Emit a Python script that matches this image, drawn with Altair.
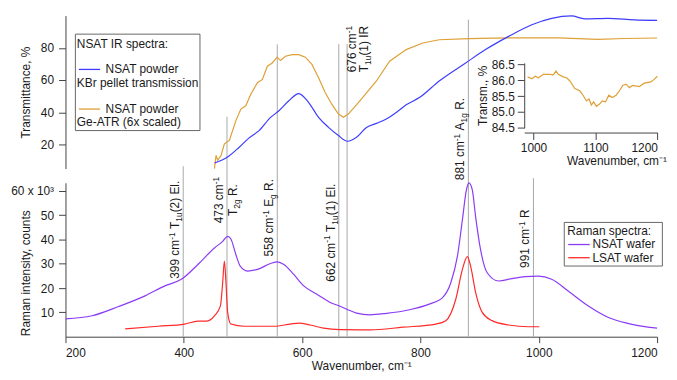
import re
import altair as alt
import pandas as pd

# ---------------- data ----------------
# IR: NSAT powder, KBr pellet transmission (%)
kbr_wn = [451.8, 474.1, 493.7, 510.5, 527.2, 546.7, 560.8, 577.5, 594.3, 611.1, 627.8, 644.6,
          661.4, 676.4, 692, 708.8, 725.6, 742.3, 759.1, 775.9, 798.2, 831.7, 876.4, 910, 949,
          988.3, 1021.8, 1055.3, 1077.6, 1116.7, 1161.5, 1200]
kbr_t = [8.5, 12.2, 18.3, 24.1, 28.6, 36.8, 40.9, 47.1, 51.6, 46.0, 36.8, 30.6, 25.5, 22.0,
         24.5, 30.6, 33.1, 35.8, 39.9, 44.6, 49.1, 59.4, 70.6, 78.9, 87.1, 94.3, 98.3, 99.8,
         98.0, 98.3, 97.4, 97.1]
# IR: NSAT powder, Ge-ATR (6x scaled)
atr_wn = [451.8, 454.5, 457.3, 462.9, 468.6, 477, 482.5, 488, 496.4, 504.8, 513.2, 524.4,
          532.8, 541.2, 549.5, 557.9, 563.5, 571.8, 583.1, 594.3, 605.4, 616.6, 627.8, 638.9,
          650.1, 661.4, 669.7, 678.1, 697.6, 725.6, 747.9, 775.9, 803.9, 831.7, 882, 949,
          1032.9, 1100, 1144.7, 1200]
atr_t = [5.0, 13.2, 10.2, 13.2, 20.4, 22.5, 28.6, 34.8, 42.0, 44.0, 51.2, 58.3, 60.4, 68.6,
         70.6, 74.2, 72.1, 74.8, 75.8, 75.8, 74.2, 69.7, 61.4, 52.2, 45.0, 38.9, 36.9, 38.9,
         47.1, 59.4, 71.7, 78.9, 83.0, 85.0, 85.7, 86.2, 86.2, 85.2, 85.8, 86.1]
# inset: Ge-ATR detail
ins_wn = [990.4, 997.4, 1002.7, 1008, 1016, 1026.7, 1032, 1036.3, 1040, 1048, 1053.4, 1058.7,
          1066.7, 1074.7, 1080, 1085.4, 1089.6, 1093.4, 1097.1, 1101.4, 1106.7, 1111, 1116.3,
          1121.6, 1127, 1133.4, 1138.7, 1144, 1149.4, 1154.7, 1160, 1170.7, 1178.7, 1189.4,
          1194.7, 1200]
ins_t = [86.11, 86.05, 86.13, 86.08, 86.19, 86.19, 86.17, 86.29, 86.19, 86.11, 86.08, 85.98,
         85.74, 85.67, 85.53, 85.35, 85.41, 85.22, 85.32, 85.18, 85.25, 85.35, 85.32, 85.53,
         85.46, 85.53, 85.67, 85.84, 85.88, 85.77, 85.84, 85.80, 85.91, 85.95, 86.03, 86.13]
# Raman: NSAT wafer (x 10^3 counts)
nsat_wn = [200.3, 244.9, 289.7, 334.5, 368, 395.8, 423.8, 451.8, 465.7, 474.1, 479.6, 488,
           495.4, 507.6, 524.4, 546.7, 557.9, 569.2, 585.9, 602.7, 625, 647.3, 664, 675.3, 692,
           714.3, 742.3, 781.4, 814.9, 837.4, 851.3, 862.5, 870.9, 877.6, 882, 887.7, 893.2,
           901.6, 912.8, 932.3, 954.7, 977, 999.3, 1021.8, 1049.6, 1083.2, 1116.7, 1150.2, 1200]
nsat_i = [7.3, 8.6, 12.4, 16.8, 20.9, 23.6, 29.7, 36.5, 39.2, 41.3, 40.2, 33.8, 29.0, 27.0,
          27.7, 30.1, 30.8, 29.7, 25.6, 20.9, 17.5, 14.1, 12.5, 11.3, 9.7, 9.0, 9.6, 11.1, 13.4,
          16.1, 22.2, 33.1, 48.1, 60.3, 63.3, 60.3, 49.4, 35.8, 26.3, 22.9, 23.9, 24.7, 24.9,
          23.6, 18.8, 12.7, 8.0, 5.5, 3.5]
# Raman: LSAT wafer
lsat_wn = [300.9, 356.7, 401.5, 423.8, 437.7, 451.8, 461.9, 465.7, 468.6, 471.3, 474.1, 479.6,
           502.1, 552.4, 580.2, 594.3, 613.7, 636.2, 664, 714.3, 770.3, 826.1, 842.9, 859.7,
           870.9, 879.3, 884.8, 893.2, 904.4, 921.2, 949, 982.6, 1001]
lsat_i = [3.2, 4.3, 5.2, 6.4, 6.4, 8.6, 12.7, 22.2, 31.1, 22.2, 10.0, 5.2, 4.3, 4.3, 5.2, 5.6,
          4.8, 3.5, 2.9, 2.8, 3.9, 5.2, 6.6, 15.4, 27.7, 32.9, 29.0, 18.2, 10.0, 6.6, 4.8, 4.1,
          4.1]
# mode markers
mode_wn = [399, 473, 558, 662, 676, 881, 991]
mode_top_t = [6.5, 37.2, 82.2, 82.3, 82.3, 97.5, -0.9]       # upper end, in transmittance units
mode_text = ["399 cm^{-1} T_{1u}(2) El.", "473 cm^{-1}|T_{2g} R.", "558 cm^{-1} E_{g} R.",
             "662 cm^{-1} T_{1u}(1) El.", "676 cm^{-1}|T_{1u}(1) IR", "881 cm^{-1} A_{1g} R.",
             "991 cm^{-1} R"]
mode_text_mid = [44.0, 56.2, 48.9, 42.8, 118.3, 81.3, 40.3]   # label centre, Raman units

x_ticks = [200, 400, 600, 800, 1000, 1200]
ir_ticks = [20, 40, 60, 80]
raman_ticks = [10, 20, 30, 40, 50, 60]
ins_x_ticks = [1000, 1100, 1200]
ins_y_ticks = [84.5, 85.0, 85.5, 86.0, 86.5]

# ---------------- style / geometry ----------------
FONT = "Liberation Sans"
INK = "#1a1a1a"
AXC = "#444444"
BLUE = "#3d3dff"
ORANGE = "#dea036"
PURPLE = "#8a3cf5"
RED = "#ff2a2a"
GRAY = "#a8a8a8"
W, H = 597, 328

X_MAIN = alt.Scale(domain=[200, 1200], range=[0, W], nice=False, zero=False)
Y_IR = alt.Scale(domain=[5, 100], range=[158.4, 4], nice=False, zero=False)
Y_RAMAN = alt.Scale(domain=[0, 63.3], range=[H, 172.7], nice=False, zero=False)
X_INS = alt.Scale(domain=[985, 1200], range=[462.9, 597.3], nice=False, zero=False)
Y_INS = alt.Scale(domain=[84.5, 86.55], range=[117.3, 51.7], nice=False, zero=False)

PX_PER_WN = W / 1000.0
PX_PER_R = (H - 172.7) / 63.3

# baseline offsets (px, + = to the right) for each line of each label
label_lines_dy = {399: [-4], 473: [-4, 10], 558: [-4], 662: [-4], 676: [9, 21.5],
                  881: [-4], 991: [-4]}
FS, FS_SMALL = 12, 8.5
ADV = {**{d: 556 for d in "0123456789"}, " ": 278, "c": 500, "m": 833, "T": 611, "E": 667,
       "A": 667, "R": 722, "I": 278, ".": 278, "(": 333, ")": 333, "l": 222, "g": 556,
       "u": 556, "-": 333}


def tw(s, size):
    return sum(ADV.get(ch, 556) for ch in s) * size / 1000.0


def parse(markup):
    segs = []
    for m in re.finditer(r"\^\{([^}]*)\}|_\{([^}]*)\}|([^^_]+)", markup):
        if m.group(1) is not None:
            segs.append((m.group(1), "sup"))
        elif m.group(2) is not None:
            segs.append((m.group(2), "sub"))
        else:
            segs.append((m.group(3), "n"))
    return segs


rows = []
for wn, txt, mid in zip(mode_wn, mode_text, mode_text_mid):
    for line, dy in zip(txt.split("|"), label_lines_dy[wn]):
        segs = parse(line)
        sizes = [FS if k == "n" else FS_SMALL for _, k in segs]
        total = sum(tw(s, sz) for (s, _), sz in zip(segs, sizes))
        cum = 0.0
        for (s, kind), sz in zip(segs, sizes):
            lead = len(s) - len(s.lstrip(" "))
            shift = dy + (-4.5 if kind == "sup" else (3.0 if kind == "sub" else 0.0))
            along = cum + tw(" " * lead, sz) - total / 2.0
            if s.strip():
                rows.append({"x": wn + shift / PX_PER_WN, "y": mid + along / PX_PER_R,
                             "t": s.strip(), "fs": sz})
            cum += tw(s, sz)
df_lab = pd.DataFrame(rows)

ONE = pd.DataFrame({"k": [0]})

# ---------------- layers ----------------
rules = alt.Chart(pd.DataFrame({"wn": mode_wn, "top": mode_top_t})).mark_rule(
    color=GRAY, strokeWidth=1).encode(
    x=alt.X("wn:Q", scale=X_MAIN, axis=None),
    y=alt.Y("top:Q", scale=Y_IR, axis=None),
    y2=alt.value(H))

kbr = alt.Chart(pd.DataFrame({"wn": kbr_wn, "v": kbr_t})).mark_line(
    color=BLUE, strokeWidth=1.2, interpolate="monotone").encode(
    x=alt.X("wn:Q", scale=X_MAIN, axis=None),
    y=alt.Y("v:Q", scale=Y_IR, axis=alt.Axis(
        orient="left", values=ir_ticks, title="Transmittance, %", tickSize=7, labelPadding=5,
        titleX=-40, titleAngle=270, titleAlign="center", titleBaseline="middle")))

atr = alt.Chart(pd.DataFrame({"wn": atr_wn, "v": atr_t})).mark_line(
    color=ORANGE, strokeWidth=1.2).encode(
    x=alt.X("wn:Q", scale=X_MAIN, axis=None),
    y=alt.Y("v:Q", scale=Y_IR, axis=None))

nsat = alt.Chart(pd.DataFrame({"wn": nsat_wn, "v": nsat_i})).mark_line(
    color=PURPLE, strokeWidth=1.2, interpolate="monotone").encode(
    x=alt.X("wn:Q", scale=X_MAIN, axis=alt.Axis(
        orient="bottom", values=x_ticks, format="d", title="Wavenumber, cm⁻¹", tickSize=6,
        labelPadding=5, titlePadding=2)),
    y=alt.Y("v:Q", scale=Y_RAMAN, axis=alt.Axis(
        orient="left", values=raman_ticks, title="Raman intensity, counts", tickSize=7,
        labelPadding=5, labelExpr="datum.value == 60 ? '60 x 10³' : datum.label",
        titleX=-40, titleY=263.5, titleAngle=270, titleAlign="center",
        titleBaseline="middle")))

lsat = alt.Chart(pd.DataFrame({"wn": lsat_wn, "v": lsat_i})).mark_line(
    color=RED, strokeWidth=1.2, interpolate="monotone").encode(
    x=alt.X("wn:Q", scale=X_MAIN, axis=None),
    y=alt.Y("v:Q", scale=Y_RAMAN, axis=None))

labels = alt.Chart(df_lab).mark_text(
    angle=270, align="left", baseline="alphabetic", font=FONT, color=INK).encode(
    x=alt.X("x:Q", scale=X_MAIN, axis=None),
    y=alt.Y("y:Q", scale=Y_RAMAN, axis=None),
    text="t:N",
    size=alt.Size("fs:Q", scale=None, legend=None))

inset = alt.Chart(pd.DataFrame({"wn": ins_wn, "v": ins_t})).mark_line(
    color=ORANGE, strokeWidth=1.2).encode(
    x=alt.X("wn:Q", scale=X_INS, axis=alt.Axis(
        orient="bottom", offset=-206, values=ins_x_ticks, format="d",
        title="Wavenumber, cm⁻¹", tickSize=7, labelPadding=3, titlePadding=2,
        titleX=556, titleAlign="center")),
    y=alt.Y("v:Q", scale=Y_INS, axis=alt.Axis(
        orient="left", offset=-462.9, values=ins_y_ticks, format=".1f", title="Transm., %",
        tickSize=7, labelPadding=3, titleX=-42, titleAngle=270, titleAlign="center",
        titleBaseline="middle")))


def box(x0, x1, y0, y1):
    return alt.Chart(ONE).mark_rect(fill="white", stroke="#666666", strokeWidth=1).encode(
        x=alt.value(x0), x2=alt.value(x1), y=alt.value(y0), y2=alt.value(y1))


def swatch(x0, x1, y, color):
    return alt.Chart(ONE).mark_rule(color=color, strokeWidth=1.3).encode(
        x=alt.value(x0), x2=alt.value(x1), y=alt.value(y))


def label(txt, x, y):
    return alt.Chart(ONE).mark_text(
        align="left", baseline="middle", font=FONT, fontSize=12, color=INK).encode(
        x=alt.value(x), y=alt.value(y), text=alt.value(txt))


ir_legend = [
    box(10, 135.7, 22.7, 120),
    label("NSAT IR spectra:", 11.5, 32.7),
    swatch(13.5, 35, 58.3, BLUE), label("NSAT powder", 40.5, 58.3),
    label("KBr pellet transmission", 11.5, 71.8),
    swatch(13.5, 35, 98.3, ORANGE), label("NSAT powder", 40.5, 98.3),
    label("Ge-ATR (6x scaled)", 11.5, 111.8),
]
raman_legend = [
    box(503.3, 602.3, 212.7, 256.7),
    label("Raman spectra:", 506.3, 221.7),
    swatch(507.3, 529, 235, PURPLE), label("NSAT wafer", 531.7, 235),
    swatch(507.3, 529, 248.3, RED), label("LSAT wafer", 531.7, 248.3),
]

chart = alt.layer(
    rules, atr, kbr, lsat, nsat, labels, inset, *ir_legend, *raman_legend
).resolve_scale(
    x="independent", y="independent", size="independent"
).properties(
    width=W, height=H,
    padding={"left": 58, "top": 2, "right": 12, "bottom": 40},
    autosize=alt.AutoSizeParams(type="none"),
    background="white",
).configure_view(stroke=None).configure_axis(
    labelFont=FONT, titleFont=FONT, labelFontSize=12, titleFontSize=12,
    titleFontWeight="normal", domainColor=AXC, tickColor=AXC, labelColor=INK,
    titleColor=INK, grid=False, domainWidth=1, tickWidth=1)

chart.save("out.html", embed_options={"renderer": "svg", "actions": False})
